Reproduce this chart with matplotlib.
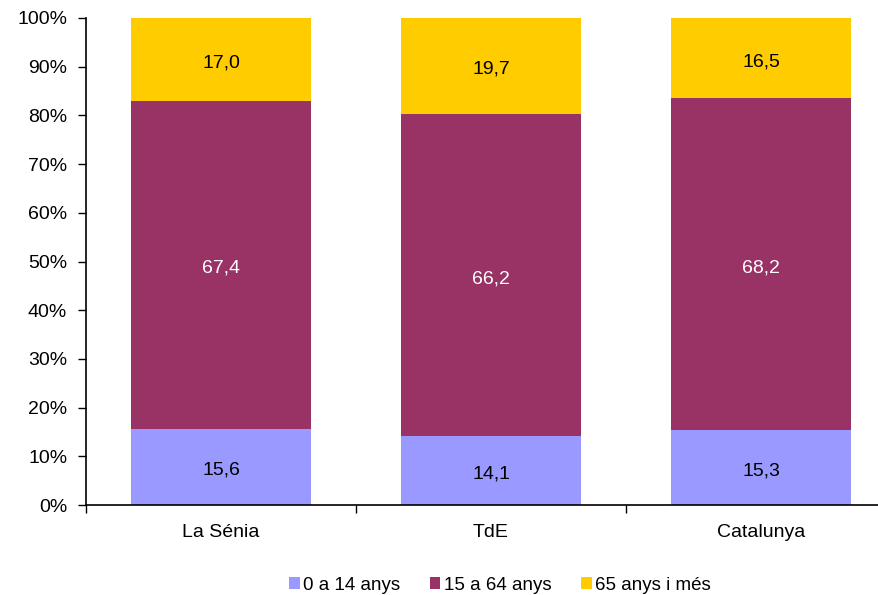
import matplotlib
matplotlib.use("Agg")
import matplotlib.pyplot as plt
import numpy as np

plt.rcParams['font.family'] = ['Liberation Sans', 'DejaVu Sans']

categories = ["La Sénia", "TdE", "Catalunya"]
series_names = ["0 a 14 anys", "15 a 64 anys", "65 anys i més"]
s_0_14 = [15.6, 14.1, 15.3]
s_15_64 = [67.4, 66.2, 68.2]
s_65 = [17.0, 19.7, 16.5]
colors = ["#9999FF", "#993366", "#FFCC00"]
text_colors = ["black", "white", "black"]

fig = plt.figure(figsize=(8.79, 5.95), dpi=100)
ax = fig.add_axes([86/879, 1-505/595, 810/879, (505-18)/595])

x = np.arange(len(categories))
bottom = np.zeros(len(categories))
for vals, name, c, tc in zip([s_0_14, s_15_64, s_65], series_names, colors, text_colors):
    vals = np.array(vals)
    ax.bar(x, vals, width=2/3, bottom=bottom, color=c, label=name)
    for xi, v, b in zip(x, vals, bottom):
        ax.annotate(f"{v:.1f}".replace('.', ','), (xi, b + v/2), xytext=(0, -2.5),
                    textcoords='offset points', ha='center', va='center',
                    color=tc, fontsize=14)
    bottom += vals

ax.set_xlim(-0.5, len(categories) - 0.5)
ax.set_ylim(0, 100)
ax.set_yticks(np.arange(0, 101, 10))
ax.set_yticklabels([f"{v}%" for v in range(0, 101, 10)], fontsize=14)
ax.set_xticks(x)
ax.set_xticklabels(categories, fontsize=14)
ax.tick_params(axis='x', which='major', length=0, pad=14)
ax.set_xticks(np.arange(-0.5, len(categories) + 0.5, 1), minor=True)
ax.tick_params(axis='x', which='minor', length=6, width=1, direction='out')
ax.tick_params(axis='y', length=5.5, width=1, direction='out', pad=8)
for s in ['top', 'right']:
    ax.spines[s].set_visible(False)
for s in ['left', 'bottom']:
    ax.spines[s].set_linewidth(1.2)
    ax.spines[s].set_color('black')
    ax.spines[s].set_clip_on(False)

fig.legend(loc='center', bbox_to_anchor=(500/879, 1-585/595), ncol=3, frameon=False,
           fontsize=13.5, handlelength=0.55, handleheight=0.55, handletextpad=0.18,
           columnspacing=1.6)

fig.savefig("out.png", dpi=100)
